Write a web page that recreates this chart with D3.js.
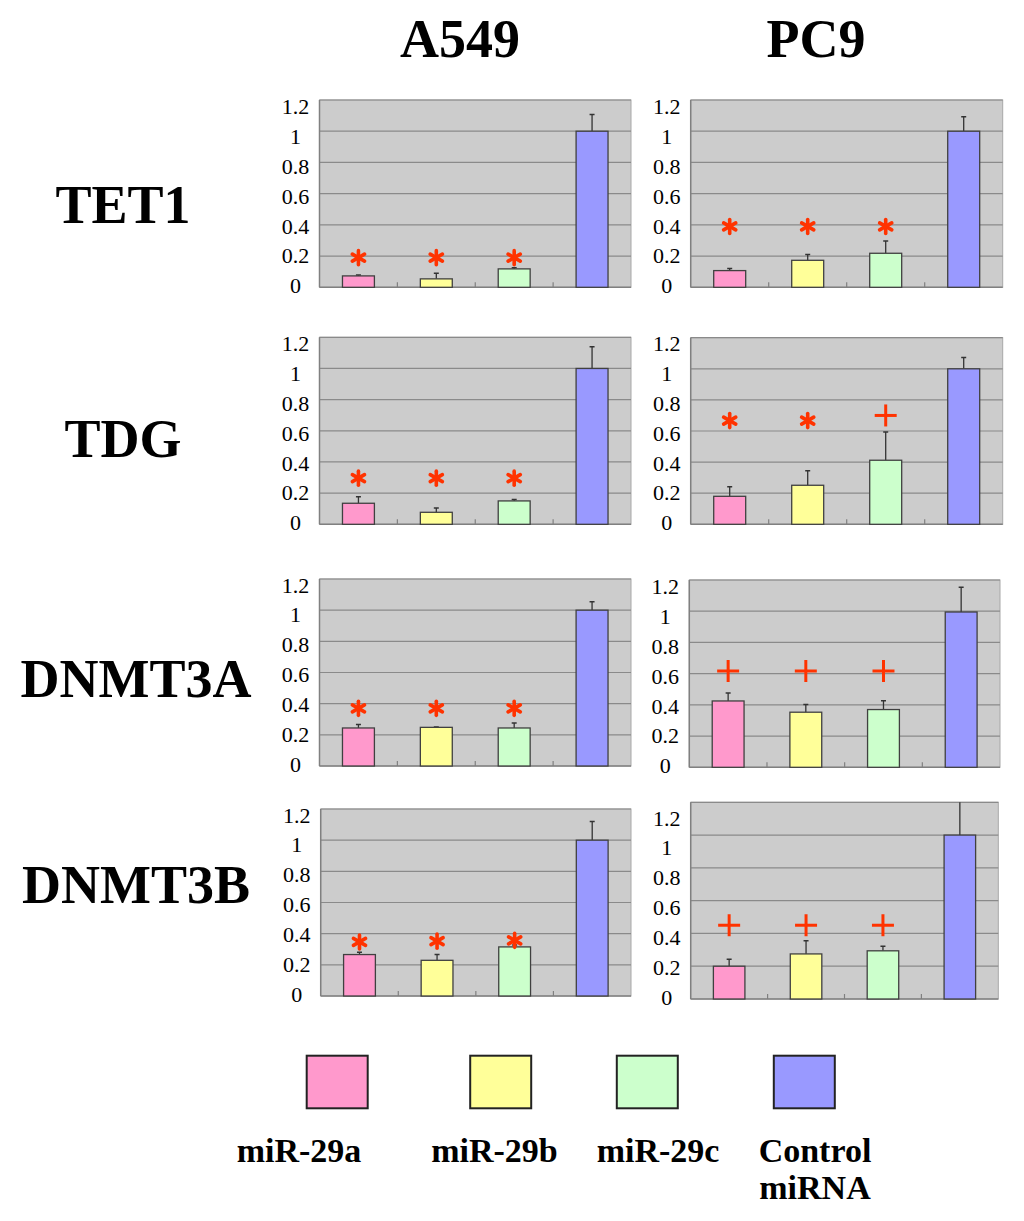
<!DOCTYPE html>
<html>
<head>
<meta charset="utf-8">
<script src="https://cdn.jsdelivr.net/npm/d3@7"></script>
<style>
  body { margin: 0; background: #fff; }
  text { font-family: "Liberation Serif", "Times New Roman", serif; }
</style>
</head>
<body>
<script>
// ---- data ----
var genes = ["TET1", "TDG", "DNMT3A", "DNMT3B"];
var cellLines = ["A549", "PC9"];
var treatments = ["miR-29a", "miR-29b", "miR-29c", "Control miRNA"];
var colors = ["#ff99cc", "#ffff99", "#ccffcc", "#9999ff"];
var yTicks = [0, 0.2, 0.4, 0.6, 0.8, 1, 1.2];

// relative expression (mean) and SD, order = treatments
var tet1A549 = [0.073, 0.054, 0.118, 1.0];
var tet1A549Sd = [0.006, 0.036, 0.008, 0.107];
var tet1PC9 = [0.107, 0.173, 0.218, 1.0];
var tet1PC9Sd = [0.013, 0.037, 0.078, 0.092];
var tdgA549 = [0.135, 0.077, 0.15, 1.0];
var tdgA549Sd = [0.041, 0.028, 0.009, 0.14];
var tdgPC9 = [0.18, 0.251, 0.412, 1.0];
var tdgPC9Sd = [0.062, 0.094, 0.182, 0.073];
var dnmt3aA549 = [0.244, 0.248, 0.244, 1.0];
var dnmt3aA549Sd = [0.022, 0.002, 0.032, 0.054];
var dnmt3aPC9 = [0.425, 0.353, 0.37, 0.995];
var dnmt3aPC9Sd = [0.051, 0.049, 0.057, 0.159];
var dnmt3bA549 = [0.266, 0.229, 0.315, 1.0];
var dnmt3bA549Sd = [0.014, 0.037, 0.013, 0.12];
var dnmt3bPC9 = [0.2, 0.275, 0.294, 1.0];
var dnmt3bPC9Sd = [0.042, 0.08, 0.028, 0.28];

// significance marks (first three bars) and the level they sit at
var tet1A549Marks = ["*", "*", "*"],  tet1A549MarkY = [0.19, 0.19, 0.19];
var tet1PC9Marks = ["*", "*", "*"],   tet1PC9MarkY = [0.39, 0.39, 0.39];
var tdgA549Marks = ["*", "*", "*"],   tdgA549MarkY = [0.296, 0.296, 0.296];
var tdgPC9Marks = ["*", "*", "+"],    tdgPC9MarkY = [0.667, 0.667, 0.70];
var dnmt3aA549Marks = ["*", "*", "*"], dnmt3aA549MarkY = [0.37, 0.37, 0.37];
var dnmt3aPC9Marks = ["+", "+", "+"], dnmt3aPC9MarkY = [0.617, 0.617, 0.617];
var dnmt3bA549Marks = ["*", "*", "*"], dnmt3bA549MarkY = [0.347, 0.352, 0.357];
var dnmt3bPC9Marks = ["+", "+", "+"], dnmt3bPC9MarkY = [0.45, 0.45, 0.45];

var panels = [
  [{v: tet1A549, sd: tet1A549Sd, m: tet1A549Marks, my: tet1A549MarkY},
   {v: tet1PC9, sd: tet1PC9Sd, m: tet1PC9Marks, my: tet1PC9MarkY}],
  [{v: tdgA549, sd: tdgA549Sd, m: tdgA549Marks, my: tdgA549MarkY},
   {v: tdgPC9, sd: tdgPC9Sd, m: tdgPC9Marks, my: tdgPC9MarkY}],
  [{v: dnmt3aA549, sd: dnmt3aA549Sd, m: dnmt3aA549Marks, my: dnmt3aA549MarkY},
   {v: dnmt3aPC9, sd: dnmt3aPC9Sd, m: dnmt3aPC9Marks, my: dnmt3aPC9MarkY}],
  [{v: dnmt3bA549, sd: dnmt3bA549Sd, m: dnmt3bA549Marks, my: dnmt3bA549MarkY},
   {v: dnmt3bPC9, sd: dnmt3bPC9Sd, m: dnmt3bPC9Marks, my: dnmt3bPC9MarkY}]
];

// ---- layout ----
var boxes = [
  [[319.5, 631, 100, 287.3], [690.7, 1002.7, 100, 287.3]],
  [[319.5, 631, 337.3, 524.3], [690.7, 1002.7, 337.7, 524.3]],
  [[319.5, 631, 579, 766], [689.3, 1000, 580, 767.3]],
  [[320.7, 631, 809, 996], [690.7, 998.3, 802.3, 999]]
];
var titleX = [460, 816];
var rowLabelX = [123, 123, 136, 136];
var rowLabelY = [223, 457, 697, 903];
var markColor = "#ff3300";

var svg = d3.select("body").append("svg")
            .attr("width", 1024)
            .attr("height", 1221);

svg.selectAll(".colTitle")
   .data(cellLines)
   .enter()
   .append("text")
   .attr("class", "colTitle")
   .attr("x", function(d, i){ return titleX[i]; })
   .attr("y", 57)
   .attr("text-anchor", "middle")
   .attr("font-size", "54px")
   .attr("font-weight", "bold")
   .text(function(d){ return d; });

svg.selectAll(".rowTitle")
   .data(genes)
   .enter()
   .append("text")
   .attr("class", "rowTitle")
   .attr("x", function(d, i){ return rowLabelX[i]; })
   .attr("y", function(d, i){ return rowLabelY[i]; })
   .attr("text-anchor", "middle")
   .attr("font-size", "54px")
   .attr("font-weight", "bold")
   .text(function(d){ return d; });

var drawPanel = function(p, box, id){
  var x0 = box[0], x1 = box[1], y0 = box[2], y1 = box[3];
  var xScale = d3.scaleBand().domain(treatments).range([x0, x1]).padding(0);
  var yScale = d3.scaleLinear().domain([0, 1.2]).range([y1, y0]);
  var labelScale = d3.scaleLinear().domain([0, 1.2]).range([y1 - 1.5, y1 - 181]);
  var barW = xScale.bandwidth() * 0.41;
  var g = svg.append("g");

  g.append("clipPath").attr("id", "clip" + id)
   .append("rect").attr("x", x0).attr("y", y0)
   .attr("width", x1 - x0).attr("height", y1 - y0);

  g.append("rect")
   .attr("x", x0).attr("y", y0)
   .attr("width", x1 - x0).attr("height", y1 - y0)
   .attr("fill", "#cccccc")
   .attr("stroke", "#a8a8a8")
   .attr("stroke-width", 1);

  g.selectAll(".grid")
   .data(yTicks.slice(1))
   .enter()
   .append("line")
   .attr("x1", x0).attr("x2", x1)
   .attr("y1", function(d){ return yScale(d); })
   .attr("y2", function(d){ return yScale(d); })
   .attr("stroke", "#8a8a8a")
   .attr("stroke-width", 1.2);

  // axis lines
  g.append("line").attr("x1", x0).attr("x2", x0).attr("y1", y0).attr("y2", y1)
   .attr("stroke", "#808080").attr("stroke-width", 1.5);
  g.append("line").attr("x1", x0).attr("x2", x1).attr("y1", y1).attr("y2", y1)
   .attr("stroke", "#808080").attr("stroke-width", 1.5);
  g.selectAll(".ctick")
   .data(treatments.slice(1))
   .enter()
   .append("line")
   .attr("x1", function(d){ return xScale(d); })
   .attr("x2", function(d){ return xScale(d); })
   .attr("y1", y1).attr("y2", y1 - 5)
   .attr("stroke", "#808080").attr("stroke-width", 1.2);

  var yAxis = d3.axisLeft(labelScale)
                .tickValues(yTicks)
                .tickSize(0)
                .tickFormat(d3.format("~g"));
  var ax = g.append("g")
            .attr("transform", "translate(" + (x0 - 24) + ",0)")
            .call(yAxis);
  ax.select(".domain").remove();
  ax.selectAll("text")
    .attr("x", 0)
    .attr("text-anchor", "middle")
    .attr("fill", "#000")
    .style("font-size", "22px")
    .style("font-family", "'Liberation Serif', serif");

  // error bars (upper only)
  var eb = g.append("g").attr("clip-path", "url(#clip" + id + ")");
  eb.selectAll(".err")
    .data(p.v)
    .enter()
    .append("line")
    .attr("x1", function(d, i){ return xScale(treatments[i]) + xScale.bandwidth() / 2; })
    .attr("x2", function(d, i){ return xScale(treatments[i]) + xScale.bandwidth() / 2; })
    .attr("y1", function(d){ return yScale(d); })
    .attr("y2", function(d, i){ return yScale(d + p.sd[i]); })
    .attr("stroke", "#333").attr("stroke-width", 1.3);
  eb.selectAll(".cap")
    .data(p.v)
    .enter()
    .append("line")
    .attr("x1", function(d, i){ return xScale(treatments[i]) + xScale.bandwidth() / 2 - 2.5; })
    .attr("x2", function(d, i){ return xScale(treatments[i]) + xScale.bandwidth() / 2 + 2.5; })
    .attr("y1", function(d, i){ return yScale(d + p.sd[i]); })
    .attr("y2", function(d, i){ return yScale(d + p.sd[i]); })
    .attr("stroke", "#333").attr("stroke-width", 1.5);

  g.selectAll(".bar")
   .data(p.v)
   .enter()
   .append("rect")
   .attr("x", function(d, i){ return xScale(treatments[i]) + (xScale.bandwidth() - barW) / 2; })
   .attr("y", function(d){ return yScale(d); })
   .attr("width", barW)
   .attr("height", function(d){ return y1 - yScale(d); })
   .attr("fill", function(d, i){ return colors[i]; })
   .attr("stroke", "#404040")
   .attr("stroke-width", 1.3);

  // significance marks
  p.m.forEach(function(mk, i){
    var cx = xScale(treatments[i]) + xScale.bandwidth() / 2;
    var cy = yScale(p.my[i]);
    var mg = g.append("g").attr("transform", "translate(" + cx + "," + cy + ")");
    if (mk == "*") {
      [90, 30, 150].forEach(function(a){
        var r = a * Math.PI / 180, L = 7;
        mg.append("line")
          .attr("x1", -L * Math.cos(r)).attr("y1", -L * Math.sin(r))
          .attr("x2", L * Math.cos(r)).attr("y2", L * Math.sin(r))
          .attr("stroke", markColor).attr("stroke-width", 3.6)
          .attr("stroke-linecap", "round");
      });
    } else {
      mg.append("line").attr("x1", -11).attr("x2", 11).attr("y1", 0).attr("y2", 0)
        .attr("stroke", markColor).attr("stroke-width", 3);
      mg.append("line").attr("x1", 0).attr("x2", 0).attr("y1", -11).attr("y2", 11)
        .attr("stroke", markColor).attr("stroke-width", 3);
    }
  });
};

panels.forEach(function(row, r){
  row.forEach(function(p, c){
    drawPanel(p, boxes[r][c], r + "_" + c);
  });
});

// ---- legend ----
var legendBoxX = [306.7, 470.2, 616.8, 773.8];
var legendTextX = [299, 494.5, 658, 815];
var legend = svg.append("g");
legend.selectAll("rect")
      .data(treatments)
      .enter()
      .append("rect")
      .attr("x", function(d, i){ return legendBoxX[i]; })
      .attr("y", 1055.7)
      .attr("width", 61)
      .attr("height", 52.6)
      .attr("fill", function(d, i){ return colors[i]; })
      .attr("stroke", "#222")
      .attr("stroke-width", 2);
legend.selectAll("text")
      .data(treatments)
      .enter()
      .append("text")
      .attr("x", function(d, i){ return legendTextX[i]; })
      .attr("y", 1162)
      .attr("text-anchor", "middle")
      .attr("font-size", "34px")
      .attr("font-weight", "bold")
      .each(function(d){
        var parts = d == "Control miRNA" ? ["Control", "miRNA"] : [d];
        var t = d3.select(this);
        parts.forEach(function(s, k){
          t.append("tspan")
           .attr("x", t.attr("x"))
           .attr("dy", k == 0 ? 0 : 37)
           .text(s);
        });
      });
</script>
</body>
</html>
